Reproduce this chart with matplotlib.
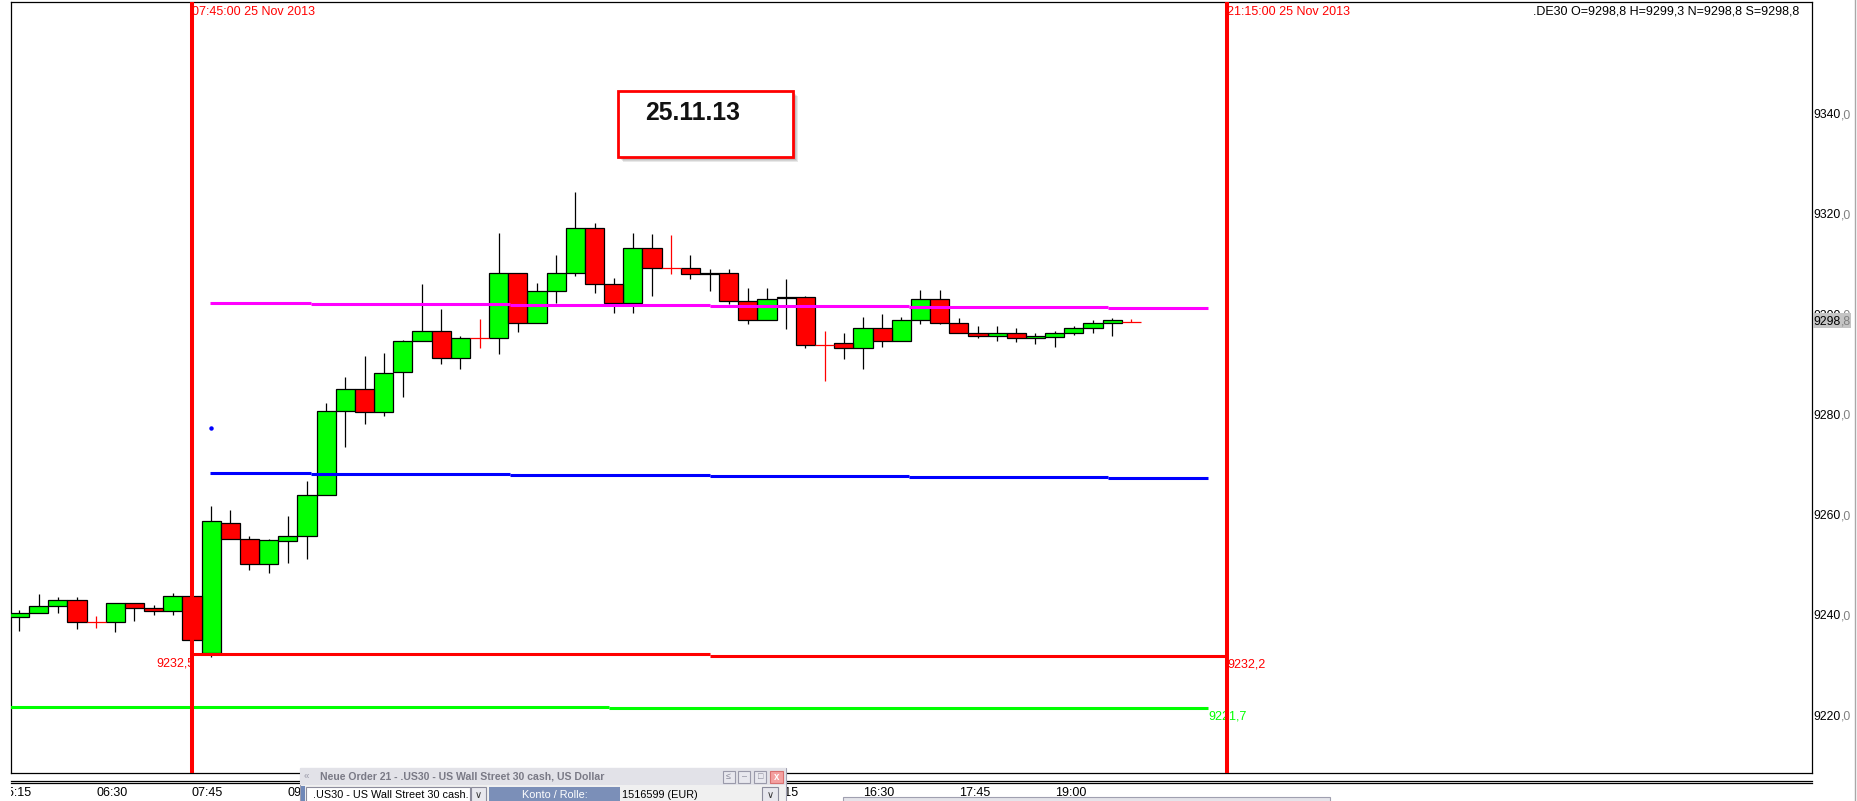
import numpy as np
import matplotlib.pyplot as plt
import matplotlib.patches as patches
import matplotlib.lines as mlines
import matplotlib.transforms as mtransforms

plt.rcParams['font.family'] = ['Liberation Sans', 'DejaVu Sans']

# 15 minute candles, .DE30, 25 Nov 2013 (index 0 = 05:30)
opens = [9239.9, 9240.6, 9242.1, 9243.2, 9238.8, 9238.8, 9242.6, 9241.6, 9241.0, 9244.0,
         9232.8, 9258.6, 9255.4, 9250.4, 9255.0, 9256.0, 9264.2, 9280.9, 9285.4, 9280.7,
         9288.7, 9294.9, 9296.9, 9291.5, 9295.5, 9295.5, 9308.4, 9298.6, 9305.0, 9308.4,
         9317.4, 9306.2, 9302.5, 9313.4, 9309.4, 9309.4, 9308.3, 9308.4, 9303.0, 9299.1,
         9303.7, 9303.7, 9294.1, 9294.5, 9293.5, 9297.5, 9294.9, 9299.1, 9303.4, 9298.6,
         9296.5, 9295.9, 9296.5, 9295.5, 9295.8, 9296.5, 9297.5, 9298.5, 9298.8]
highs = [9241.3, 9244.5, 9243.9, 9243.9, 9240.1, 9242.6, 9242.6, 9242.3, 9244.7, 9244.0,
         9262.0, 9261.2, 9256.0, 9255.4, 9260.0, 9267.0, 9282.6, 9287.7, 9291.9, 9292.5,
         9295.1, 9306.3, 9301.3, 9295.9, 9299.3, 9316.5, 9308.4, 9306.5, 9312.1, 9324.6,
         9318.5, 9307.4, 9316.4, 9316.2, 9316.1, 9312.1, 9309.3, 9309.2, 9305.4, 9305.4,
         9307.2, 9304.0, 9296.9, 9296.5, 9299.7, 9300.3, 9299.7, 9305.1, 9305.1, 9299.5,
         9297.9, 9297.9, 9297.5, 9296.5, 9296.9, 9297.9, 9299.1, 9299.5, 9299.3]
lows = [9237.0, 9240.6, 9240.7, 9237.5, 9237.6, 9236.8, 9239.0, 9240.3, 9240.3, 9235.2,
        9232.0, 9255.4, 9249.3, 9248.7, 9250.7, 9251.4, 9264.2, 9273.8, 9278.4, 9280.0,
        9283.8, 9294.9, 9290.4, 9289.3, 9293.6, 9292.4, 9296.7, 9298.6, 9302.6, 9307.9,
        9304.6, 9300.6, 9300.5, 9304.0, 9308.2, 9307.3, 9305.0, 9302.4, 9298.4, 9299.1,
        9297.4, 9293.5, 9287.0, 9291.4, 9289.4, 9293.8, 9294.9, 9298.4, 9298.4, 9296.5,
        9295.6, 9295.0, 9294.8, 9294.4, 9293.8, 9296.1, 9296.5, 9296.0, 9298.8]
closes = [9240.6, 9242.1, 9243.2, 9238.8, 9238.8, 9242.6, 9241.6, 9241.0, 9244.0, 9235.2,
          9259.0, 9255.4, 9250.4, 9255.2, 9256.0, 9264.2, 9280.9, 9285.4, 9280.7, 9288.5,
          9294.9, 9296.9, 9291.5, 9295.5, 9295.5, 9308.4, 9298.6, 9305.0, 9308.4, 9317.4,
          9306.2, 9302.5, 9313.4, 9309.4, 9309.4, 9308.2, 9308.4, 9303.0, 9299.1, 9303.4,
          9303.6, 9294.1, 9294.1, 9293.5, 9297.5, 9294.9, 9299.1, 9303.4, 9298.6, 9296.5,
          9295.9, 9296.5, 9295.5, 9295.9, 9296.5, 9297.5, 9298.5, 9299.1, 9298.8]

# time axis labels (candle index, text)
time_ticks = [-1, 4, 9, 14, 19, 24, 29, 34, 39, 44, 49, 54]
time_labels = ["05:15", "06:30", "07:45", "09:00", "10:15", "11:30", "12:45",
               "14:00", "15:15", "16:30", "17:45", "19:00"]
price_ticks = [9220, 9240, 9260, 9280, 9300, 9320, 9340]

# stepped indicator lines
seg_breaks = [9.92, 15.22, 25.59, 36.0, 46.41, 56.78, 62.0]
magenta_vals = [9302.6, 9302.4, 9302.2, 9302.0, 9301.8, 9301.6]
blue_vals = [9268.7, 9268.5, 9268.3, 9268.1, 9267.9, 9267.7]
red_breaks = [9, 36.0, 63]
red_vals = [9232.5, 9232.2]
green_breaks = [-1, 30.75, 62.0]
green_vals = [9222.0, 9221.7]
session_marks = [9, 63]
session_labels = ["07:45:00 25 Nov 2013", "21:15:00 25 Nov 2013"]
last_price = 9298.8
header = ".DE30 O=9298,8 H=9299,3 N=9298,8 S=9298,8"

W, H = 1857, 801
fig = plt.figure(figsize=(W / 100, H / 100), dpi=100)
ax = fig.add_axes([10.7 / W, 1 - 773.3 / H, (1812 - 10.7) / W, (773.3 - 2) / H])
ax.set_xlim(-0.457, 93.51)
ax.set_ylim(9208.71, 9362.54)
ax.set_xticks([])
ax.set_yticks([])
for sp in ax.spines.values():
    sp.set_linewidth(0.9)

def fx(x):
    return x / W

def fy(y):
    return 1 - y / H

# candles
idx = np.arange(len(opens))
o = np.array(opens)
c = np.array(closes)
hi = np.array(highs)
lo = np.array(lows)
up = c > o
down = c < o
flat = c == o
ax.vlines(idx[~flat], lo[~flat], hi[~flat], color="black", lw=0.9, zorder=2)
ax.bar(idx[up], (c - o)[up], bottom=o[up], width=1.0, color="#00ff00",
       edgecolor="black", linewidth=0.9, zorder=3)
ax.bar(idx[down], (o - c)[down], bottom=c[down], width=1.0, color="#ff0000",
       edgecolor="black", linewidth=0.9, zorder=3)
ax.hlines(c[flat], idx[flat] - 0.5, idx[flat] + 0.5, color="red", lw=0.9, zorder=3)
ax.vlines(idx[flat], lo[flat], hi[flat], color="red", lw=0.9, zorder=3)

# stepped lines
ax.hlines(magenta_vals, seg_breaks[:-1], seg_breaks[1:], color="#ff00ff", lw=2.2, zorder=4)
ax.hlines(blue_vals, seg_breaks[:-1], seg_breaks[1:], color="#0000ff", lw=2.2, zorder=4)
ax.hlines(red_vals, red_breaks[:-1], red_breaks[1:], color="#ff0000", lw=2.2, zorder=4)
ax.hlines(green_vals, green_breaks[:-1], green_breaks[1:], color="#00ff00", lw=2.2, zorder=4)
ax.plot([9.98], [9277.6], "o", ms=2.2, color="#0000ff", zorder=4)

# session lines
top_tr = mtransforms.blended_transform_factory(ax.transData, ax.transAxes)
for m, lab in zip(session_marks, session_labels):
    ax.axvline(m, color="#ff0000", lw=2.9, zorder=6)
    ax.text(m, 0.9872, lab, transform=top_tr, ha="left", va="center",
            color="#ff0000", fontsize=9, zorder=5)

ax.text(0.9928, 0.9872, header, transform=ax.transAxes, ha="right", va="center",
        fontsize=9, color="black")

ax.annotate("9232,5", xy=(red_breaks[0], red_vals[0]), xytext=(1.5, -2.5),
            textcoords="offset points", ha="right", va="top", color="#ff0000",
            fontsize=9, zorder=5)
ax.annotate("9232,2", xy=(red_breaks[-1], red_vals[-1]), xytext=(0, -2),
            textcoords="offset points", ha="left", va="top", color="#ff0000",
            fontsize=9, zorder=5)
ax.annotate("9221,7", xy=(green_breaks[-1], green_vals[-1]), xytext=(0, -1.5),
            textcoords="offset points", ha="left", va="top", color="#00ff00",
            fontsize=9, zorder=5)

# date box with a soft drop shadow
px_x = 1 / 19.17
px_y = 1 / 5.014
for k in range(1, 6):
    ax.add_patch(patches.Rectangle((31.21 + k * px_x, 9331.68 - k * px_y), 9.12, 13.17,
                                   fc="#000000", ec="none", alpha=0.09, zorder=6))
ax.add_patch(patches.Rectangle((31.21, 9331.68), 9.12, 13.17, fc="white",
                               ec="#ff0000", lw=2.0, zorder=7))
ax.text(32.66, 9340.4, "25.11.13", ha="left", va="center", fontsize=17.8,
        fontweight="bold", color="#111111", zorder=8)

# price scale on the right
right_tr = mtransforms.blended_transform_factory(ax.transAxes, ax.transData)
for v in price_ticks:
    t = ax.text(1.0007, v, str(v), transform=right_tr, ha="left", va="center",
                fontsize=8.7, color="black", clip_on=False)
    ax.annotate(",0", xy=(1, 0), xycoords=t, ha="left", va="bottom",
                fontsize=8.7, color="#808080", annotation_clip=False)
ax.add_patch(patches.Rectangle((1.0007, 9297.5), 0.0212, 3.0, transform=right_tr,
                               fc="#c4c4c4", ec="none", clip_on=False, zorder=9))
lp_int, lp_dec = f"{last_price:.1f}".split(".")
t = ax.text(1.0007, last_price, lp_int, transform=right_tr, ha="left", va="center",
            fontsize=8.7, color="black", clip_on=False, zorder=10)
ax.annotate("," + lp_dec, xy=(1, 0), xycoords=t, ha="left", va="bottom",
            fontsize=8.7, color="#808080", annotation_clip=False, zorder=10)

# time scale at the bottom
bot_tr = mtransforms.blended_transform_factory(ax.transData, fig.transFigure)
clip = mtransforms.TransformedBbox(mtransforms.Bbox([[fx(10.7), 0], [fx(1812), fy(775)]]),
                                   fig.transFigure)
for tk, lab in zip(time_ticks, time_labels):
    t = ax.text(tk, fy(792.5), lab, transform=bot_tr, ha="left", va="center",
                fontsize=9, color="black")
    t.set_clip_box(clip)
    t.set_clip_on(True)

for yy in (780.7, 783.2):
    fig.add_artist(mlines.Line2D([fx(10.7), fx(1812)], [fy(yy), fy(yy)], color="black",
                                 lw=0.9, zorder=1))
fig.add_artist(mlines.Line2D([fx(1854.5), fx(1854.5)], [0, 1], color="#a8a8a8",
                             lw=1.0, zorder=1))


def frect(x0, y0, x1, y1, fc, ec="none", lw=0.8, z=5):
    r = patches.Rectangle((fx(x0), fy(y1)), (x1 - x0) / W, (y1 - y0) / H,
                          transform=fig.transFigure, fc=fc, ec=ec, lw=lw, zorder=z)
    fig.add_artist(r)
    return r


# order dialog overlapping the time scale
frect(299.5, 767.5, 786, 802, "#f0f0f0", "#a0a0b0")
frect(300, 768, 785.5, 785, "#e2e2e8", "none")
fig.text(fx(304), fy(776.5), "\u00ab", fontsize=7, color="#9a9aa8", va="center", zorder=6)
fig.text(fx(319.5), fy(776.5), "Neue Order 21 - .US30 - US Wall Street 30 cash, US Dollar",
         fontsize=7.6, fontweight="bold", color="#7a7a86", va="center", zorder=6)
for bx, sym in zip([722.6, 738.4, 754.2], ["\u2264", "\u2013", "\u25a1"]):
    frect(bx, 770.7, bx + 12, 782.7, "#e8e8ee", "#9a9aaa", z=6)
    fig.text(fx(bx + 6), fy(776.7), sym, fontsize=6.5, color="#8a8a9a", ha="center",
             va="center", zorder=7)
frect(770, 770.7, 782.7, 782.7, "#f4a0a0", "#d87070", z=6)
fig.text(fx(776.3), fy(776.7), "x", fontsize=7, color="white", fontweight="bold",
         ha="center", va="center", zorder=7)
frect(301, 786, 304.5, 802, "#7088b8", z=6)
frect(306, 787, 469.5, 802, "white", "#8c8c9c", z=6)
fig.text(fx(313), fy(795.5), ".US30 - US Wall Street 30 cash.", fontsize=7.8,
         color="black", va="center", zorder=7)
frect(470.5, 787, 485.6, 802, "#e8e8ee", "#8c8c9c", z=6)
fig.text(fx(478), fy(795.5), "\u2228", fontsize=7, color="#333333", ha="center",
         va="center", zorder=7)
frect(489, 786.5, 620, 802, "#7b8fb8", z=6)
fig.text(fx(554.5), fy(795.5), "Konto / Rolle:", fontsize=7.8, color="white",
         ha="center", va="center", zorder=7)
fig.text(fx(622), fy(795.5), "1516599 (EUR)", fontsize=7.8, color="black",
         va="center", zorder=7)
frect(762, 787, 778, 802, "#e8e8ee", "#8c8c9c", z=6)
fig.text(fx(770), fy(795.5), "\u2228", fontsize=7, color="#333333", ha="center",
         va="center", zorder=7)
frect(843, 797, 1330, 803, "#e4e4ea", "#a0a0b0")

fig.savefig("out.png", dpi=100)
